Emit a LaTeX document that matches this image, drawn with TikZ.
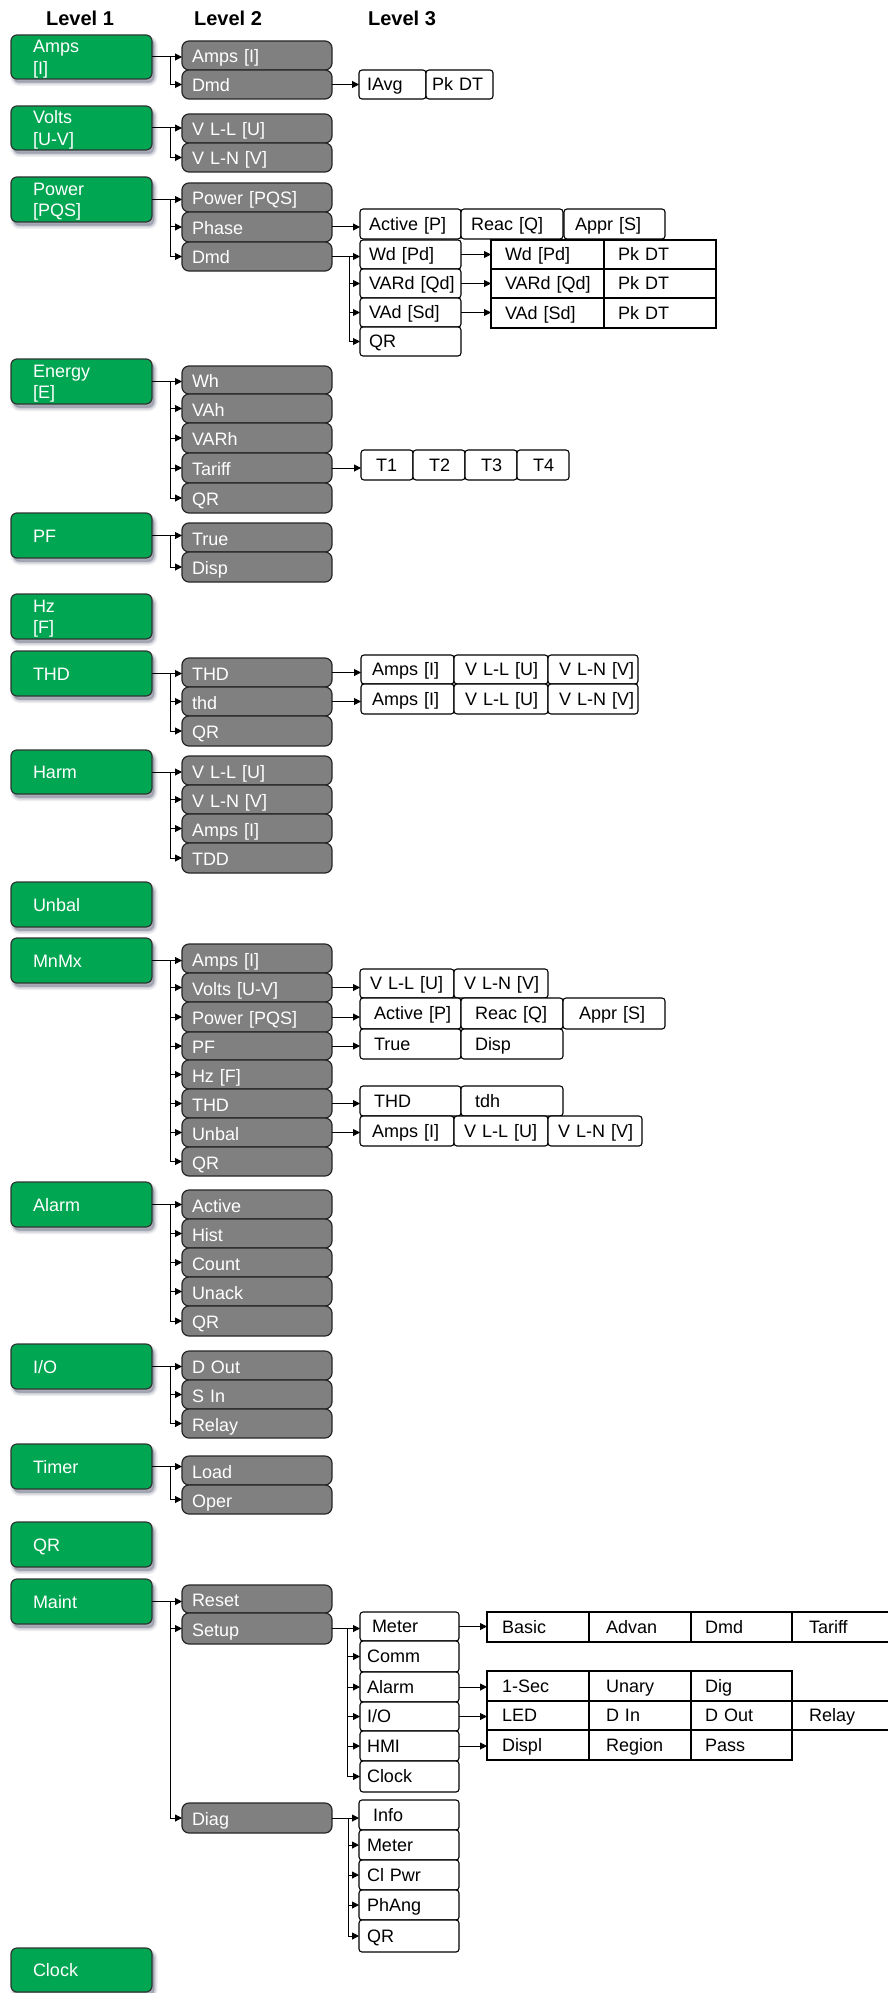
\documentclass[tikz,border=0pt]{standalone}
\usepackage{fontspec}
\setmainfont{Liberation Sans}
\usetikzlibrary{arrows.meta,calc}
\definecolor{ggreen}{RGB}{0,166,81}
\definecolor{gedge}{RGB}{45,55,50}
\definecolor{boxgray}{RGB}{128,128,128}
\definecolor{shcol}{RGB}{110,115,135}
\newcommand\boxfont{\fontsize{18}{21.6}\selectfont}
\newcommand\bx[8]{%
  \pgfmathsetmacro\bxw{#5-#3}%
  \pgfmathsetmacro\bxh{#6-#4}%
  \node[#2, anchor=north west, outer sep=0pt, inner sep=0pt, minimum width=\bxw pt, minimum height=\bxh pt, text width=\bxw pt, align=left] (#1) at (#3,#4) {\hspace*{#7pt}\begin{tabular}{@{}l@{}}#8\end{tabular}};}
\newcommand\cfirst[2]{\draw[conn] (#1.east) -- (#1.east -| #2.west);}
\newcommand\cstub[2]{\draw[conn] (#1) |- (#2.west);}
\begin{document}
\begin{tikzpicture}[x=1pt,y=-1pt,
  gbox/.style={fill=ggreen, draw=gedge, line width=1.2pt, rounded corners=6pt, text=white, font=\boxfont, text height=13pt, text depth=0pt,
     preaction={fill=shcol, draw=shcol, line width=6pt, opacity=0.12, transform canvas={xshift=2.5pt,yshift=-4pt}},
     preaction={fill=shcol, draw=shcol, line width=3pt, opacity=0.2, transform canvas={xshift=2.5pt,yshift=-4pt}},
     preaction={fill=shcol, opacity=0.35, transform canvas={xshift=2pt,yshift=-3.5pt}}},
  graybox/.style={fill=boxgray, draw=black!85, line width=1.2pt, rounded corners=7pt, text=white, font=\boxfont, text height=15pt, text depth=0pt},
  wbox/.style={fill=white, draw=black, line width=1.1pt, rounded corners=3pt, text=black, font=\boxfont, text height=12.5pt, text depth=0pt},
  tcell/.style={fill=white, draw=black, line width=1.3pt, text=black, font=\boxfont, text height=12pt, text depth=0pt},
  conn/.style={draw=black, line width=1pt, -{Triangle[length=7pt,width=7pt]}},
  hdr/.style={font=\fontsize{20}{24}\selectfont\bfseries, text=black, inner sep=0pt}]
\useasboundingbox (0,0) rectangle (888,1993);
\fill[white] (0,0) rectangle (888,1993);
\clip (0,0) rectangle (888,1993);

% headers
\node[hdr] (h1) at (80,18) {Level 1};
\node[hdr] (h2) at (228,18) {Level 2};
\node[hdr] (h3) at (402,18) {Level 3};

% level 1
\bx{gA}{gbox}{11}{35}{152}{79}{22}{Amps\\{}[I]}
\bx{gV}{gbox}{11}{106}{152}{150}{22}{Volts\\{}[U-V]}
\bx{gP}{gbox}{11}{177}{152}{222}{22}{Power\\{}[PQS]}
\bx{gE}{gbox}{11}{359}{152}{404}{22}{Energy\\{}[E]}
\bx{gPF}{gbox}{11}{513}{152}{558}{22}{PF}
\bx{gHz}{gbox}{11}{594}{152}{639}{22}{Hz\\{}[F]}
\bx{gTH}{gbox}{11}{651}{152}{696}{22}{THD}
\bx{gH}{gbox}{11}{750}{152}{794}{22}{Harm}
\bx{gU}{gbox}{11}{882}{152}{927}{22}{Unbal}
\bx{gM}{gbox}{11}{938}{152}{983}{22}{MnMx}
\bx{gAl}{gbox}{11}{1182}{152}{1227}{22}{Alarm}
\bx{gIO}{gbox}{11}{1344}{152}{1389}{22}{I/O}
\bx{gTi}{gbox}{11}{1444}{152}{1489}{22}{Timer}
\bx{gQR}{gbox}{11}{1522}{152}{1567}{22}{QR}
\bx{gMa}{gbox}{11}{1579}{152}{1624}{22}{Maint}
\bx{gC}{gbox}{11}{1948}{152}{1992}{22}{Clock}

% level 2
\bx{aA}{graybox}{182}{41}{332}{70}{10}{Amps [I]}
\bx{aD}{graybox}{182}{70}{332}{99}{10}{Dmd}
\bx{vLL}{graybox}{182}{114}{332}{143}{10}{V L-L [U]}
\bx{vLN}{graybox}{182}{143}{332}{172}{10}{V L-N [V]}
\bx{pP}{graybox}{182}{183}{332}{212}{10}{Power [PQS]}
\bx{pPh}{graybox}{182}{212}{332}{242}{10}{Phase}
\bx{pD}{graybox}{182}{242}{332}{271}{10}{Dmd}
\bx{eWh}{graybox}{182}{366}{332}{394}{10}{Wh}
\bx{eVAh}{graybox}{182}{394}{332}{423}{10}{VAh}
\bx{eVARh}{graybox}{182}{423}{332}{453}{10}{VARh}
\bx{eT}{graybox}{182}{453}{332}{483}{10}{Tariff}
\bx{eQ}{graybox}{182}{483}{332}{513}{10}{QR}
\bx{fT}{graybox}{182}{523}{332}{552}{10}{True}
\bx{fD}{graybox}{182}{552}{332}{582}{10}{Disp}
\bx{tT}{graybox}{182}{658}{332}{687}{10}{THD}
\bx{tt}{graybox}{182}{687}{332}{716}{10}{thd}
\bx{tQ}{graybox}{182}{716}{332}{746}{10}{QR}
\bx{hLL}{graybox}{182}{756}{332}{785}{10}{V L-L [U]}
\bx{hLN}{graybox}{182}{785}{332}{814}{10}{V L-N [V]}
\bx{hA}{graybox}{182}{814}{332}{843}{10}{Amps [I]}
\bx{hT}{graybox}{182}{843}{332}{873}{10}{TDD}
\bx{mA}{graybox}{182}{944}{332}{973}{10}{Amps [I]}
\bx{mV}{graybox}{182}{973}{332}{1002}{10}{Volts [U-V]}
\bx{mP}{graybox}{182}{1002}{332}{1032}{10}{Power [PQS]}
\bx{mPF}{graybox}{182}{1032}{332}{1060}{10}{PF}
\bx{mHz}{graybox}{182}{1060}{332}{1089}{10}{Hz [F]}
\bx{mTH}{graybox}{182}{1089}{332}{1118}{10}{THD}
\bx{mU}{graybox}{182}{1118}{332}{1147}{10}{Unbal}
\bx{mQ}{graybox}{182}{1147}{332}{1176}{10}{QR}
\bx{alA}{graybox}{182}{1190}{332}{1219}{10}{Active}
\bx{alH}{graybox}{182}{1219}{332}{1248}{10}{Hist}
\bx{alC}{graybox}{182}{1248}{332}{1277}{10}{Count}
\bx{alU}{graybox}{182}{1277}{332}{1306}{10}{Unack}
\bx{alQ}{graybox}{182}{1306}{332}{1336}{10}{QR}
\bx{ioD}{graybox}{182}{1351}{332}{1380}{10}{D Out}
\bx{ioS}{graybox}{182}{1380}{332}{1409}{10}{S In}
\bx{ioR}{graybox}{182}{1409}{332}{1438}{10}{Relay}
\bx{tiL}{graybox}{182}{1456}{332}{1485}{10}{Load}
\bx{tiO}{graybox}{182}{1485}{332}{1514}{10}{Oper}
\bx{maR}{graybox}{182}{1585}{332}{1613}{10}{Reset}
\bx{maS}{graybox}{182}{1613}{332}{1644}{10}{Setup}
\bx{maD}{graybox}{182}{1803}{332}{1833}{10}{Diag}

% level 3 : Amps
\bx{iavg}{wbox}{359}{70}{426}{99}{8}{IAvg}
\bx{ipk}{wbox}{426}{70}{493}{99}{6}{Pk DT}
% Power / Phase
\bx{phA}{wbox}{360}{209}{461}{239}{9}{Active [P]}
\bx{phR}{wbox}{461}{209}{563}{239}{10}{Reac [Q]}
\bx{phS}{wbox}{564}{209}{665}{239}{11}{Appr [S]}
% Power / Dmd
\bx{dW}{wbox}{360}{240}{461}{269}{9}{Wd [Pd]}
\bx{dVAR}{wbox}{360}{269}{461}{298}{9}{VARd [Qd]}
\bx{dVA}{wbox}{360}{298}{461}{327}{9}{VAd [Sd]}
\bx{dQ}{wbox}{360}{327}{461}{356}{9}{QR}
\bx{tW1}{tcell}{491}{240}{604}{269}{14}{Wd [Pd]}
\bx{tW2}{tcell}{604}{240}{716}{269}{14}{Pk DT}
\bx{tQ1}{tcell}{491}{269}{604}{298}{14}{VARd [Qd]}
\bx{tQ2}{tcell}{604}{269}{716}{298}{14}{Pk DT}
\bx{tS1}{tcell}{491}{298}{604}{328}{14}{VAd [Sd]}
\bx{tS2}{tcell}{604}{298}{716}{328}{14}{Pk DT}
% Energy / Tariff
\bx{T1}{wbox}{361}{450}{413}{480}{15}{T1}
\bx{T2}{wbox}{413}{450}{465}{480}{16}{T2}
\bx{T3}{wbox}{465}{450}{517}{480}{16}{T3}
\bx{T4}{wbox}{517}{450}{569}{480}{16}{T4}
% THD
\bx{thA}{wbox}{361}{655}{454}{684}{11}{Amps [I]}
\bx{thU}{wbox}{454}{655}{548}{684}{11}{V L-L [U]}
\bx{thV}{wbox}{548}{655}{638}{684}{11}{V L-N [V]}
\bx{tdA}{wbox}{361}{684}{454}{714}{11}{Amps [I]}
\bx{tdU}{wbox}{454}{684}{548}{714}{11}{V L-L [U]}
\bx{tdV}{wbox}{548}{684}{638}{714}{11}{V L-N [V]}
% MnMx
\bx{mvU}{wbox}{360}{969}{454}{998}{10}{V L-L [U]}
\bx{mvV}{wbox}{454}{969}{548}{998}{10}{V L-N [V]}
\bx{mpP}{wbox}{360}{998}{461}{1029}{14}{Active [P]}
\bx{mpQ}{wbox}{461}{998}{563}{1029}{14}{Reac [Q]}
\bx{mpS}{wbox}{563}{998}{665}{1029}{16}{Appr [S]}
\bx{mfT}{wbox}{360}{1029}{461}{1059}{14}{True}
\bx{mfD}{wbox}{461}{1029}{563}{1059}{14}{Disp}
\bx{mtT}{wbox}{360}{1086}{461}{1116}{14}{THD}
\bx{mtt}{wbox}{461}{1086}{563}{1116}{14}{tdh}
\bx{muA}{wbox}{360}{1116}{454}{1146}{12}{Amps [I]}
\bx{muU}{wbox}{454}{1116}{548}{1146}{10}{V L-L [U]}
\bx{muV}{wbox}{548}{1116}{642}{1146}{10}{V L-N [V]}
% Maint / Setup
\bx{sM}{wbox}{360}{1612}{459}{1641}{12}{Meter}
\bx{sC}{wbox}{360}{1641}{459}{1672}{7}{Comm}
\bx{sA}{wbox}{360}{1672}{459}{1702}{7}{Alarm}
\bx{sI}{wbox}{360}{1702}{459}{1731}{7}{I/O}
\bx{sH}{wbox}{360}{1731}{459}{1761}{7}{HMI}
\bx{sK}{wbox}{360}{1761}{459}{1792}{7}{Clock}
\bx{mb1}{tcell}{487}{1612}{589}{1642}{15}{Basic}
\bx{mb2}{tcell}{589}{1612}{691}{1642}{17}{Advan}
\bx{mb3}{tcell}{691}{1612}{792}{1642}{14}{Dmd}
\bx{mb4}{tcell}{792}{1612}{900}{1642}{17}{Tariff}
\bx{ab1}{tcell}{487}{1671}{589}{1701}{15}{1-Sec}
\bx{ab2}{tcell}{589}{1671}{691}{1701}{17}{Unary}
\bx{ab3}{tcell}{691}{1671}{792}{1701}{14}{Dig}
\bx{ib1}{tcell}{487}{1701}{589}{1730}{15}{LED}
\bx{ib2}{tcell}{589}{1701}{691}{1730}{17}{D In}
\bx{ib3}{tcell}{691}{1701}{792}{1730}{14}{D Out}
\bx{ib4}{tcell}{792}{1701}{900}{1730}{17}{Relay}
\bx{hb1}{tcell}{487}{1730}{589}{1760}{15}{Displ}
\bx{hb2}{tcell}{589}{1730}{691}{1760}{17}{Region}
\bx{hb3}{tcell}{691}{1730}{792}{1760}{14}{Pass}
% Maint / Diag
\bx{dI}{wbox}{359}{1800}{459}{1830}{14}{Info}
\bx{dM}{wbox}{359}{1830}{459}{1860}{8}{Meter}
\bx{dC}{wbox}{359}{1860}{459}{1890}{8}{Cl Pwr}
\bx{dP}{wbox}{359}{1890}{459}{1920}{8}{PhAng}
\bx{dR}{wbox}{359}{1920}{459}{1952}{8}{QR}

% branch coordinates
\coordinate (bA) at ($(gA.east)+(18,0)$);
\coordinate (bV) at ($(gV.east)+(18,0)$);
\coordinate (bP) at ($(gP.east)+(18,0)$);
\coordinate (bE) at ($(gE.east)+(18,0)$);
\coordinate (bPF) at ($(gPF.east)+(18,0)$);
\coordinate (bTH) at ($(gTH.east)+(18,0)$);
\coordinate (bH) at ($(gH.east)+(18,0)$);
\coordinate (bM) at ($(gM.east)+(18,0)$);
\coordinate (bAl) at ($(gAl.east)+(18,0)$);
\coordinate (bIO) at ($(gIO.east)+(18,0)$);
\coordinate (bTi) at ($(gTi.east)+(18,0)$);
\coordinate (bMa) at ($(gMa.east)+(18,0)$);
\coordinate (bpD) at ($(pD.east)+(17,0)$);
\coordinate (bmaS) at ($(maS.east)+(15,0)$);
\coordinate (bmaD) at ($(maD.east)+(16,0)$);

% level 1 -> level 2
\cfirst{gA}{aA}\cstub{bA}{aD}
\cfirst{gV}{vLL}\cstub{bV}{vLN}
\cfirst{gP}{pP}\cstub{bP}{pPh}\cstub{bP}{pD}
\cfirst{gE}{eWh}\cstub{bE}{eVAh}\cstub{bE}{eVARh}\cstub{bE}{eT}\cstub{bE}{eQ}
\cfirst{gPF}{fT}\cstub{bPF}{fD}
\cfirst{gTH}{tT}\cstub{bTH}{tt}\cstub{bTH}{tQ}
\cfirst{gH}{hLL}\cstub{bH}{hLN}\cstub{bH}{hA}\cstub{bH}{hT}
\cfirst{gM}{mA}\cstub{bM}{mV}\cstub{bM}{mP}\cstub{bM}{mPF}\cstub{bM}{mHz}\cstub{bM}{mTH}\cstub{bM}{mU}\cstub{bM}{mQ}
\cfirst{gAl}{alA}\cstub{bAl}{alH}\cstub{bAl}{alC}\cstub{bAl}{alU}\cstub{bAl}{alQ}
\cfirst{gIO}{ioD}\cstub{bIO}{ioS}\cstub{bIO}{ioR}
\cfirst{gTi}{tiL}\cstub{bTi}{tiO}
\cfirst{gMa}{maR}\cstub{bMa}{maS}\cstub{bMa}{maD}

% level 2 -> level 3
\cfirst{aD}{iavg}
\cfirst{pPh}{phA}
\cfirst{pD}{dW}\cstub{bpD}{dVAR}\cstub{bpD}{dVA}\cstub{bpD}{dQ}
\cfirst{dW}{tW1}
\cfirst{dVAR}{tQ1}
\cfirst{dVA}{tS1}
\cfirst{eT}{T1}
\cfirst{tT}{thA}
\cfirst{tt}{tdA}
\cfirst{mV}{mvU}
\cfirst{mP}{mpP}
\cfirst{mPF}{mfT}
\cfirst{mTH}{mtT}
\cfirst{mU}{muA}
\cfirst{maS}{sM}\cstub{bmaS}{sC}\cstub{bmaS}{sA}\cstub{bmaS}{sI}\cstub{bmaS}{sH}\cstub{bmaS}{sK}
\cfirst{sM}{mb1}
\cfirst{sA}{ab1}
\cfirst{sI}{ib1}
\cfirst{sH}{hb1}
\cfirst{maD}{dI}\cstub{bmaD}{dM}\cstub{bmaD}{dC}\cstub{bmaD}{dP}\cstub{bmaD}{dR}
\end{tikzpicture}
\end{document}
